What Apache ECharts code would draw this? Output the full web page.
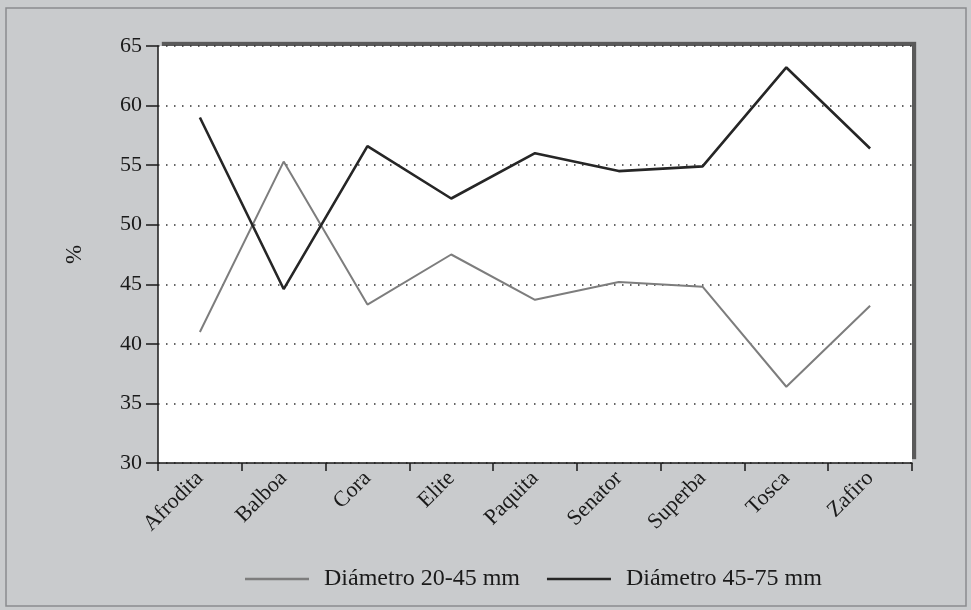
<!DOCTYPE html>
<html><head><meta charset="utf-8">
<script src="https://cdn.jsdelivr.net/npm/echarts@6/dist/echarts.min.js"></script>
<style>html,body{margin:0;padding:0;background:#c9cbcd}#c{width:971px;height:610px}</style>
</head><body><div id="c"></div>
<script>
const categories = ['Afrodita','Balboa','Cora','Elite','Paquita','Senator','Superba','Tosca','Zafiro'];
const diam20_45 = [41.0, 55.3, 43.3, 47.5, 43.7, 45.2, 44.8, 36.4, 43.2];
const diam45_75 = [59.0, 44.6, 56.6, 52.2, 56.0, 54.5, 54.9, 63.2, 56.4];
const seriesNames = ['Diámetro 20-45 mm', 'Diámetro 45-75 mm'];
const yTicks = {min: 30, max: 65, interval: 5};

const font = '"Liberation Serif", "Times New Roman", serif';
const chart = echarts.init(document.getElementById('c'));
chart.setOption({
  backgroundColor: '#c9cbcd',
  animation: false,
  textStyle: {fontFamily: font},
  graphic: [{
    type: 'rect', shape: {x: 6, y: 8, width: 960, height: 598},
    style: {fill: 'none', stroke: '#8a8c8e', lineWidth: 1.5}, silent: true
  }],
  grid: {
    left: 158, right: 59, top: 46, bottom: 147,
    show: true, backgroundColor: '#ffffff', borderWidth: 0,
    shadowColor: '#5a5a5a', shadowOffsetX: 4, shadowOffsetY: -4, shadowBlur: 1
  },
  legend: {
    left: 240, top: 562,
    icon: 'rect',
    itemWidth: 64, itemHeight: 2.5, itemGap: 27,
    textStyle: {fontFamily: font, fontSize: 24, color: '#1a1a1a', padding: [0, 0, 0, 10]},
    data: seriesNames
  },
  xAxis: {
    type: 'category', data: categories, boundaryGap: true,
    axisLine: {lineStyle: {color: '#1a1a1a', width: 1.5}},
    axisTick: {show: true, length: 8, inside: false, alignWithLabel: false, lineStyle: {color: '#1a1a1a', width: 1.5}},
    axisLabel: {rotate: 45, fontSize: 22, color: '#1a1a1a', fontFamily: font, margin: 12, interval: 0},
    splitLine: {show: false}
  },
  yAxis: {
    type: 'value', min: yTicks.min, max: yTicks.max, interval: yTicks.interval,
    name: '%', nameLocation: 'middle', nameGap: 72, nameRotate: 90,
    nameTextStyle: {fontSize: 23, color: '#1a1a1a', fontFamily: font},
    axisLine: {show: true, lineStyle: {color: '#1a1a1a', width: 1.5}},
    axisTick: {show: true, length: 12, lineStyle: {color: '#1a1a1a', width: 1.5}},
    axisLabel: {fontSize: 22, color: '#1a1a1a', fontFamily: font, margin: 16},
    splitLine: {show: true, lineStyle: {color: '#333', width: 1.5, type: [1.5, 6.5]}}
  },
  series: [
    {name: seriesNames[0], type: 'line', data: diam20_45, symbol: 'none',
     lineStyle: {color: '#7d7d7d', width: 2}, itemStyle: {color: '#7d7d7d'}},
    {name: seriesNames[1], type: 'line', data: diam45_75, symbol: 'none',
     lineStyle: {color: '#262626', width: 2.6}, itemStyle: {color: '#262626'}}
  ]
});
</script></body></html>
